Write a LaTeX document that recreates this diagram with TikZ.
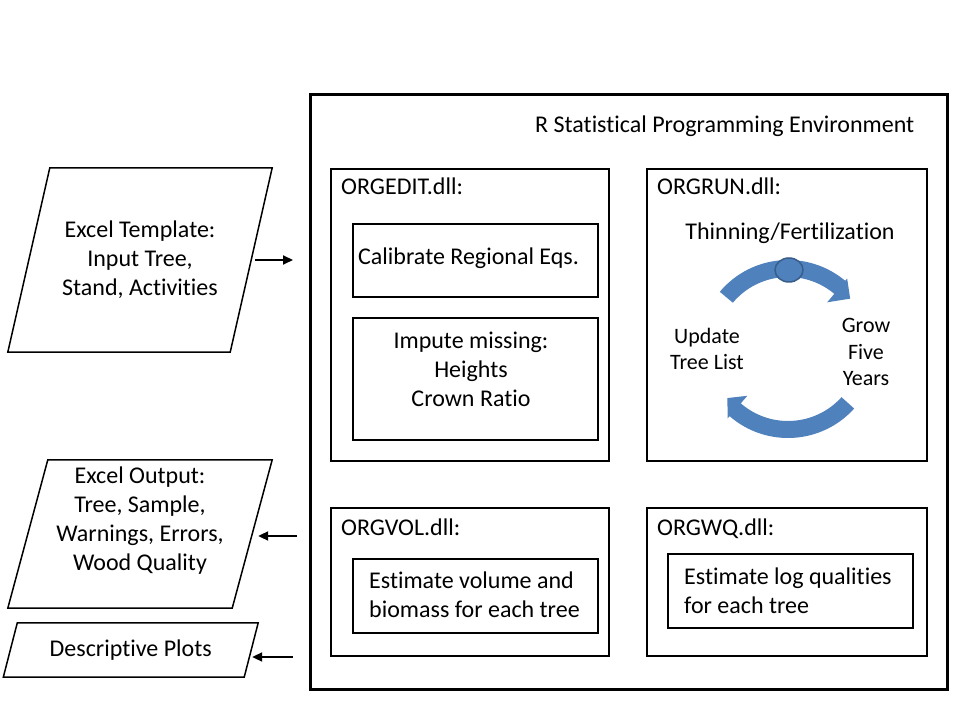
\documentclass[tikz,border=0pt]{standalone}
\usepackage{fontspec}
\setmainfont{Carlito}[Ligatures={NoCommon,NoRequired,NoContextual}]
\usetikzlibrary{arrows.meta}
\definecolor{cblue}{RGB}{79,129,189}
\definecolor{cbluedark}{RGB}{56,93,138}
\begin{document}
\begin{tikzpicture}[x=1pt,y=1pt,
  txt/.style={inner sep=0pt, font=\fontsize{24}{29}\selectfont},
  smalltxt/.style={inner sep=0pt, font=\fontsize{22}{26.5}\selectfont},
  outerbox/.style={draw, line width=3pt, inner sep=0pt},
  dllbox/.style={draw, line width=1.3pt, inner sep=0pt},
  taskbox/.style={draw, line width=2.5pt, inner sep=0pt, minimum width=245pt},
  para/.style={line width=1.5pt, line join=miter},
  arr/.style={line width=2pt, -{Triangle[length=10pt,width=9pt]}},
  cyc/.style={fill=cblue},
]
\fill[white] (0,0) rectangle (960,720);
\useasboundingbox (0,0) rectangle (960,720);

% input / output shapes
\node[txt, align=center, minimum width=222pt, minimum height=184pt] (inp) at (140,460)
  {Excel Template:\\Input Tree,\\Stand, Activities};
\draw[para] ([xshift=21pt]inp.north west) -- ([xshift=21pt]inp.north east)
  -- ([xshift=-21pt]inp.south east) -- ([xshift=-21pt]inp.south west) -- cycle;

\node[inner sep=0pt, minimum width=224pt, minimum height=148pt] (outp) at (140,186) {};
\draw[para] ([xshift=20pt]outp.north west) -- ([xshift=20pt]outp.north east)
  -- ([xshift=-20pt]outp.south east) -- ([xshift=-20pt]outp.south west) -- cycle;
\node[txt, align=center] (outtxt) at (140,199)
  {Excel Output:\\Tree, Sample,\\Warnings, Errors,\\Wood Quality};

\node[txt, minimum width=240.5pt, minimum height=54pt] (plots) at (130.75,70) {Descriptive Plots};
\draw[para] ([xshift=7pt]plots.north west) -- ([xshift=7pt]plots.north east)
  -- ([xshift=-7pt]plots.south east) -- ([xshift=-7pt]plots.south west) -- cycle;

% arrows
\coordinate (inEnd) at (293,460);
\draw[arr, shorten <=4pt] (inp.east) -- (inEnd);
\coordinate (outStart) at (297,184);
\draw[arr, shorten >=6pt] (outStart) -- (outStart -| outp.east);
\coordinate (plStart) at (293,63);
\draw[arr, shorten >=1pt] (plStart) -- (plStart -| plots.east);

% R environment
\node[outerbox, minimum width=637pt, minimum height=594pt] (renv) at (628.5,328) {};
\node[txt, anchor=base west] (rtitle) at (535,587) {R Statistical Programming Environment};

% ORGEDIT
\node[dllbox, minimum width=278pt, minimum height=292pt] (edit) at (470,405) {};
\node[txt, anchor=base west] (editt) at (341,525) {ORGEDIT.dll:};
\node[taskbox, minimum height=73pt] (calib) at (475.5,459.5) {};
\node[txt, anchor=base west] (calibt) at (358,455) {Calibrate Regional Eqs.};
\node[taskbox, minimum height=122pt] (imp) at (475.5,341) {};
\node[txt, align=center] (impt) at (471,351) {Impute missing:\\Heights\\Crown Ratio};

% ORGRUN
\node[dllbox, minimum width=280pt, minimum height=292pt] (run) at (787,405) {};
\node[txt, anchor=base west] (runt) at (657,525) {ORGRUN.dll:};
\node[txt, anchor=base] (thin) at (790,480) {Thinning/Fertilization};
\node[smalltxt, align=center] (upd) at (707,371) {Update\\Tree List};
\node[smalltxt, align=center] (grow) at (866,368) {Grow\\Five\\Years};
\begin{scope}[shift={(788,371)}]
\fill[cyc] (140:89) arc[start angle=140, end angle=50, radius=89] -- (50:92) -- (39:80)
  -- (50:61) -- (50:72) arc[start angle=50, end angle=140, radius=72] -- cycle;
\fill[cyc] (-42:89) arc[start angle=-42, end angle=-131, radius=89] -- (-131:92) -- (-141:78)
  -- (-131:62) -- (-131:72) arc[start angle=-131, end angle=-42, radius=72] -- cycle;
\end{scope}
\filldraw[fill=cblue, draw=cbluedark, line width=1.5pt] (789,450) ellipse [x radius=14pt, y radius=12pt];

% ORGVOL
\node[dllbox, minimum width=278pt, minimum height=148pt] (vol) at (470,138) {};
\node[txt, anchor=base west] (volt) at (341,184) {ORGVOL.dll:};
\node[taskbox, minimum height=74pt] (estv) at (475.5,124) {};
\node[txt, align=left, anchor=west] (estvt) at (369,125.5) {Estimate volume and\\biomass for each tree};

% ORGWQ
\node[dllbox, minimum width=280pt, minimum height=148pt] (wq) at (787,138) {};
\node[txt, anchor=base west] (wqt) at (657,184) {ORGWQ.dll:};
\node[taskbox, minimum height=74pt] (estl) at (790.5,129) {};
\node[txt, align=left, anchor=west] (estlt) at (684,129.5) {Estimate log qualities\\for each tree};
\end{tikzpicture}
\end{document}
